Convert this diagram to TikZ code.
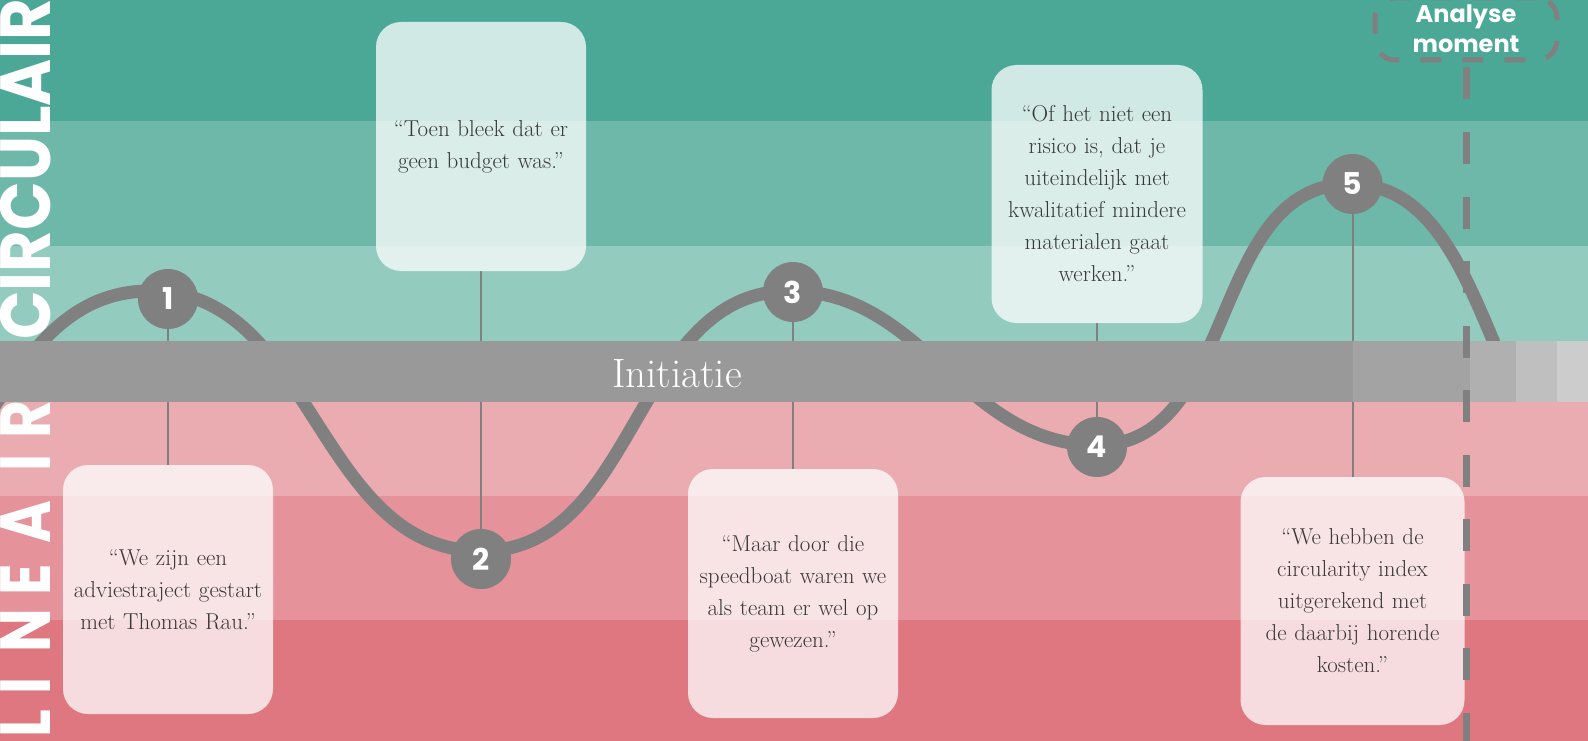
\documentclass[tikz,border=0pt]{standalone}
\usepackage{fontspec}
\newfontfamily\gothic{Poppins}
\usetikzlibrary{positioning}

\definecolor{tealA}{HTML}{4BA897}
\definecolor{tealB}{HTML}{6DB8A9}
\definecolor{tealC}{HTML}{93CBBF}
\definecolor{pinkA}{HTML}{EAACB1}
\definecolor{pinkB}{HTML}{E5929A}
\definecolor{pinkC}{HTML}{DE777F}
\definecolor{wave}{HTML}{808080}
\definecolor{barA}{HTML}{999999}
\definecolor{quotetext}{HTML}{262626}

\pgfdeclarelayer{back}
\pgfdeclarelayer{mid}
\pgfsetlayers{back,mid,main}

\newcommand{\narrow}[2][0.82]{\scalebox{#1}[1]{#2}}

\tikzset{
  quote/.style={rounded corners=25pt, fill=white, fill opacity=.75,
    text opacity=.9, text=quotetext, minimum width=210pt,
    minimum height=249pt, text width=208pt, align=center, inner sep=0pt,
    font=\fontsize{23}{32}\selectfont},
  num/.style={circle, fill=wave, minimum size=60pt, inner sep=0pt,
    text=white, font=\gothic\bfseries\fontsize{30}{30}\selectfont},
  stem/.style={draw=wave, line width=2pt},
  vlabel/.style={rotate=90, inner sep=0pt, text=white,
    font=\gothic\bfseries\fontsize{71}{71}\selectfont},
}

\begin{document}
\begin{tikzpicture}[x=1pt, y=-1pt]
  \useasboundingbox (0,0) rectangle (1588,741);

  % quotes
  \node [quote] (q1) at (168,589.5) {“We zijn een\\adviestraject gestart\\met Thomas Rau.”};
  \node [quote] (q2) at (481,146.5) {“Toen bleek dat er\\geen budget was.”};
  \node [quote] (q3) at (793,593.5) {“Maar door die\\speedboat waren we\\als team er wel op\\gewezen.”};
  \node [quote, minimum width=211pt, minimum height=258pt] (q4) at (1097,194)
    {“Of het niet een\\risico is, dat je\\uiteindelijk met\\kwalitatief mindere\\materialen gaat\\werken.”};
  \node [quote, minimum width=224pt, minimum height=248pt] (q5) at (1352.5,601)
    {“We hebben de\\circularity index\\uitgerekend met\\de daarbij horende\\kosten.”};

  % moments
  \node [num] (c1) at (168,299) {1};
  \node [num] (c2) at (481,559) {2};
  \node [num] (c3) at (793,292) {3};
  \node [num] (c4) at (1097,447) {4};
  \node [num] (c5) at (1352.5,184) {5};

  \begin{pgfonlayer}{back}
    \fill [tealA] (0,0) rectangle (1588,121);
    \fill [tealB] (0,121) rectangle (1588,246);
    \fill [tealC] (0,246) rectangle (1588,341);
    \fill [pinkA] (0,402) rectangle (1588,496);
    \fill [pinkB] (0,496) rectangle (1588,620);
    \fill [pinkC] (0,620) rectangle (1588,741);
    \draw [wave, line width=13pt]
      (-180,551) to[out=0,in=180] (150,291)
      to[out=0,in=180] (481,551)
      to[out=0,in=180] (790,291)
      to[out=0,in=180] (1097,445)
      to[out=0,in=180] (1350,184)
      .. controls (1440,184) and (1470,290) .. (1512,385);
    \foreach \i in {1,...,5}
      \draw [stem] (c\i) -- (q\i);
  \end{pgfonlayer}

  \begin{pgfonlayer}{mid}
    \fill [barA] (0,341) rectangle (1353,402);
    \fill [black!36] (1353,341) rectangle (1470,402);
    \fill [black!31] (1470,341) rectangle (1516,402);
    \fill [black!25] (1516,341) rectangle (1557,402);
    \fill [black!20] (1557,341) rectangle (1588,402);
    \node [text=white, anchor=base, inner sep=0pt, font=\fontsize{41}{41}\selectfont]
      (init) at (677,387) {Initiatie};
  \end{pgfonlayer}

  % analyse moment
  \node [draw=wave, line width=5pt, dash pattern=on 21pt off 21pt,
    rounded corners=20pt, minimum width=182pt, minimum height=62pt,
    text=white, align=center, inner sep=0pt,
    font=\gothic\bfseries\fontsize{24}{30}\selectfont]
    (am) at (1466,29) {Analyse\\moment};
  \coordinate (foot) at (1466,741);
  \draw [wave, line width=7pt, dash pattern=on 32pt off 32.5pt, dash phase=59.5pt]
    (am.south) -- (foot);

  % side labels
  \node [vlabel, anchor=base west] (circ) at (50,340) {\narrow[0.9]{CIRCULAIR}};
  \foreach \ch/\yy [count=\k] in {R/420, I/463, A/522, E/580, N/631, I/686, L/724}
    \node [vlabel, anchor=base] (lin\k) at (50,\yy) {\narrow{\ch}};
\end{tikzpicture}
\end{document}
